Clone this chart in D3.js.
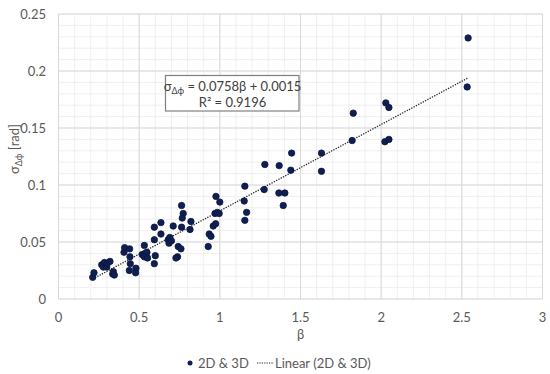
<!DOCTYPE html>
<html lang="en">
    <head>
        <meta charset="utf-8">
        <title>Sigma vs beta scatter</title>
        <script type="text/javascript" src="https://d3js.org/d3.v7.min.js"></script>
        <style type="text/css">
          body { margin: 0; background: #fff; }
          svg { width: 550px; height: 374px; display: block; }
          text { font-family: Lato, "Open Sans", sans-serif; fill: #595959; }
        </style>
    </head>
    <body>
      <svg></svg>

      <script type="text/javascript">

        // beta values (x) and sigma values (y)
        const beta = [0.212, 0.220, 0.268, 0.278, 0.285, 0.299, 0.302, 0.319, 0.336, 0.340,
                      0.346, 0.406, 0.410, 0.441, 0.443, 0.445, 0.439, 0.480, 0.478, 0.532,
                      0.519, 0.536, 0.548, 0.532, 0.552, 0.594, 0.600, 0.594, 0.594, 0.635,
                      0.635, 0.680, 0.690, 0.685, 0.700, 0.711, 0.742, 0.759, 0.738, 0.728,
                      0.763, 0.773, 0.767, 0.763, 0.815, 0.821, 0.928, 0.934, 0.945, 0.959,
                      0.974, 0.970, 0.984, 0.996, 0.976, 1.000, 1.155, 1.151, 1.166, 1.155,
                      1.279, 1.275, 1.368, 1.366, 1.403, 1.393, 1.445, 1.440, 1.630, 1.630,
                      1.827, 1.820, 2.029, 2.048, 2.023, 2.048, 2.539, 2.533];
        const sigma = [0.019, 0.023, 0.030, 0.028, 0.032, 0.028, 0.031, 0.033, 0.022, 0.024,
                       0.021, 0.041, 0.045, 0.044, 0.037, 0.031, 0.025, 0.027, 0.023, 0.047,
                       0.039, 0.040, 0.041, 0.037, 0.036, 0.031, 0.038, 0.052, 0.063, 0.067,
                       0.057, 0.052, 0.054, 0.049, 0.051, 0.064, 0.046, 0.044, 0.037, 0.036,
                       0.082, 0.075, 0.071, 0.063, 0.061, 0.068, 0.046, 0.057, 0.055, 0.064,
                       0.066, 0.075, 0.076, 0.075, 0.090, 0.085, 0.099, 0.086, 0.076, 0.069,
                       0.118, 0.096, 0.117, 0.093, 0.093, 0.082, 0.128, 0.113, 0.128, 0.112,
                       0.163, 0.139, 0.172, 0.168, 0.138, 0.140, 0.229, 0.186];

        // linear trend line from the picture
        const slope = 0.0758;
        const intercept = 0.0015;
        const r2 = "0.9196";

        const xTicks = [0, 0.5, 1, 1.5, 2, 2.5, 3];
        const yTicks = [0, 0.05, 0.1, 0.15, 0.2, 0.25];

        const svg = d3.select("svg");
        const pLeft = 58.5, pRight = 542.5, pTop = 14, pBottom = 299;

        const x = d3.scaleLinear().domain([0, 3]).range([pLeft, pRight]);
        const y = d3.scaleLinear().domain([0, 0.25]).range([pBottom, pTop]);

        //minor grid
        const g = svg.append("g");
        g.selectAll(".minx")
          .data(d3.range(0, 3.0001, 0.1))
          .enter().append("line")
          .attr("x1", d => x(d)).attr("x2", d => x(d))
          .attr("y1", pTop).attr("y2", pBottom)
          .attr("stroke", "#efefef").attr("stroke-width", 1);
        g.selectAll(".miny")
          .data(d3.range(0, 0.2501, 0.01))
          .enter().append("line")
          .attr("y1", d => y(d)).attr("y2", d => y(d))
          .attr("x1", pLeft).attr("x2", pRight)
          .attr("stroke", "#efefef").attr("stroke-width", 1);

        //major grid
        g.selectAll(".majx")
          .data(xTicks)
          .enter().append("line")
          .attr("x1", d => x(d)).attr("x2", d => x(d))
          .attr("y1", pTop).attr("y2", pBottom)
          .attr("stroke", "#d9d9d9").attr("stroke-width", 1);
        g.selectAll(".majy")
          .data(yTicks)
          .enter().append("line")
          .attr("y1", d => y(d)).attr("y2", d => y(d))
          .attr("x1", pLeft).attr("x2", pRight)
          .attr("stroke", "#d9d9d9").attr("stroke-width", 1);

        //tick labels
        svg.selectAll(".ytl")
          .data(yTicks)
          .enter().append("text")
          .attr("x", 46)
          .attr("y", d => y(d) + 4.5)
          .attr("text-anchor", "end")
          .attr("font-size", 13)
          .text(d => d);
        svg.selectAll(".xtl")
          .data(xTicks)
          .enter().append("text")
          .attr("x", d => x(d))
          .attr("y", 322)
          .attr("text-anchor", "middle")
          .attr("font-size", 13)
          .text(d => d);

        //axis titles
        svg.append("text")
          .attr("x", (pLeft + pRight) / 2)
          .attr("y", 338.5)
          .attr("text-anchor", "middle")
          .attr("font-size", 13)
          .text("β");

        const yt = svg.append("text")
          .attr("transform", "translate(19,149) rotate(-90)")
          .attr("text-anchor", "middle")
          .attr("font-size", 13);
        yt.append("tspan").text("σ");
        yt.append("tspan").attr("font-size", 9).attr("dy", 3).text("Δϕ");
        yt.append("tspan").attr("dy", -3).text(" [rad]");

        //trend line
        const bx = d3.extent(beta);
        svg.append("line")
          .attr("x1", x(bx[0])).attr("y1", y(slope * bx[0] + intercept))
          .attr("x2", x(bx[1])).attr("y2", y(slope * bx[1] + intercept))
          .attr("stroke", "#262626")
          .attr("stroke-width", 1.3)
          .attr("stroke-dasharray", "1.3,1.3");

        //points
        svg.selectAll("circle.pt")
          .data(beta)
          .enter().append("circle")
          .attr("class", "pt")
          .attr("cx", d => x(d))
          .attr("cy", (d, i) => y(sigma[i]))
          .attr("r", 3.2)
          .attr("fill", "#0f1f52")
          .attr("stroke", "#0a1640")
          .attr("stroke-width", 0.8);

        //equation box
        svg.append("rect")
          .attr("x", 165.5).attr("y", 75.5)
          .attr("width", 133.5).attr("height", 35.5)
          .attr("fill", "#fff")
          .attr("stroke", "#808080")
          .attr("stroke-width", 1.2);

        const eq = svg.append("text")
          .attr("x", 232.5).attr("y", 90.5)
          .attr("text-anchor", "middle")
          .attr("font-size", 13)
          .style("fill", "#404040");
        eq.append("tspan").text("σ");
        eq.append("tspan").attr("font-size", 9).attr("dy", 3).text("Δϕ");
        eq.append("tspan").attr("dy", -3).text(" = " + slope + "β + " + intercept);

        const rr = svg.append("text")
          .attr("x", 232.5).attr("y", 106.5)
          .attr("text-anchor", "middle")
          .attr("font-size", 13)
          .style("fill", "#404040");
        rr.append("tspan").text("R² = " + r2);

        //legend
        svg.append("circle")
          .attr("cx", 190).attr("cy", 363)
          .attr("r", 2.5)
          .attr("fill", "#0f1f52");
        svg.append("text")
          .attr("x", 198).attr("y", 367.5)
          .attr("font-size", 13)
          .text("2D & 3D");
        svg.append("line")
          .attr("x1", 257).attr("x2", 274)
          .attr("y1", 363).attr("y2", 363)
          .attr("stroke", "#262626")
          .attr("stroke-width", 1.2)
          .attr("stroke-dasharray", "1.2,1.2");
        svg.append("text")
          .attr("x", 275).attr("y", 367.5)
          .attr("font-size", 13)
          .text("Linear (2D & 3D)");
      </script>
    </body>
</html>
